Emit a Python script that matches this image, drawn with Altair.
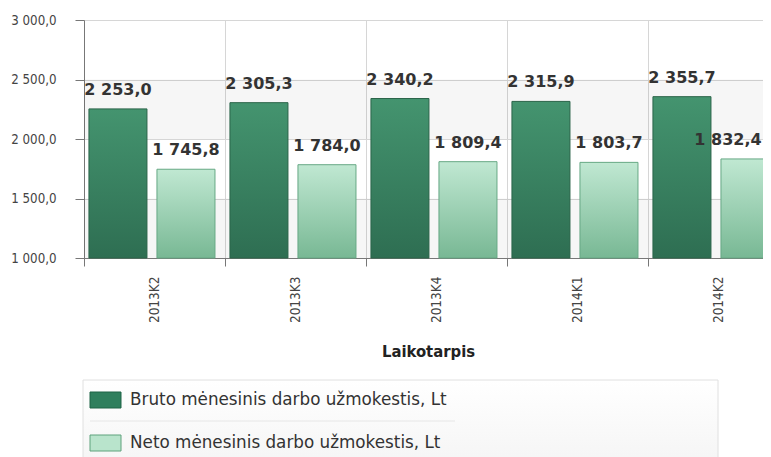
import altair as alt
import pandas as pd

periods = ["2013K2", "2013K3", "2013K4", "2014K1", "2014K2"]
bruto = [2253.0, 2305.3, 2340.2, 2315.9, 2355.7]
neto = [1745.8, 1784.0, 1809.4, 1803.7, 1832.4]
series = ["Bruto mėnesinis darbo užmokestis, Lt", "Neto mėnesinis darbo užmokestis, Lt"]
y_ticks = [1000, 1500, 2000, 2500, 3000]
shade_lo = [1000, 2000]
shade_hi = [1500, 2500]


def lt_format(v):
    return f"{v:,.1f}".replace(",", " ").replace(".", ",")


rows = []
for p, b, n in zip(periods, bruto, neto):
    rows.append({"period": p, "series": series[0], "value": b, "label": lt_format(b)})
    rows.append({"period": p, "series": series[1], "value": n, "label": lt_format(n)})
df = pd.DataFrame(rows)

# visible plot width (the 5th band runs off the right edge, as in the original)
W, H = 679, 238
FULL = 705
AX_FONT = "DejaVu Sans Condensed, Liberation Sans, sans-serif"
LBL_FONT = "DejaVu Sans, Verdana, sans-serif"

x_enc = alt.X(
    "period:N",
    sort=periods,
    title="Laikotarpis",
    scale=alt.Scale(domain=periods, paddingInner=0, paddingOuter=0, range=[0, FULL]),
    axis=alt.Axis(
        labelAngle=270, labelAlign="right", labelBaseline="middle",
        labelPadding=10, tickSize=8, tickBand="extent", grid=True,
        gridColor="#d6d6d6", domainColor="#777777", tickColor="#777777",
        labelFont=AX_FONT, labelFontSize=13.5, labelColor="#444444",
        titleFont=AX_FONT, titleFontSize=16.5, titleFontWeight="bold",
        titleColor="#222222", titlePadding=21, titleX=344,
    ),
)
xo_enc = alt.XOffset(
    "series:N",
    scale=alt.Scale(domain=series, paddingInner=0.147, paddingOuter=0.11, align=0.33),
)
y_enc = alt.Y(
    "value:Q",
    scale=alt.Scale(domain=[1000, 3000], nice=False, zero=False),
    axis=alt.Axis(
        values=y_ticks, title=None,
        labelExpr="replace(replace(format(datum.value, ',.1f'), ',', ' '), '.', ',')",
        tickSize=9, labelPadding=19,
        domainColor="#777777", tickColor="#777777", gridColor="#d6d6d6",
        labelFont=AX_FONT, labelFontSize=13.2, labelColor="#444444",
    ),
)

shade = alt.Chart(pd.DataFrame({"lo": shade_lo, "hi": shade_hi})).mark_rect(
    color="#000000", opacity=0.035
).encode(
    x=alt.value(0), x2=alt.value(FULL),
    y=alt.Y("lo:Q", scale=alt.Scale(domain=[1000, 3000], nice=False, zero=False)),
    y2="hi:Q",
)

dark_grad = alt.Gradient(
    gradient="linear", x1=0, x2=0, y1=0, y2=1,
    stops=[alt.GradientStop(color="#44946f", offset=0),
           alt.GradientStop(color="#2e6e52", offset=1)],
)
light_grad = alt.Gradient(
    gradient="linear", x1=0, x2=0, y1=0, y2=1,
    stops=[alt.GradientStop(color="#c0e8d2", offset=0),
           alt.GradientStop(color="#78b894", offset=1)],
)

base = alt.Chart(df).encode(x=x_enc, xOffset=xo_enc, y=y_enc, y2=alt.datum(1000))

bars_b = base.transform_filter(alt.datum.series == series[0]).mark_bar(
    fill=dark_grad, stroke="#2a6449", strokeWidth=1
)
bars_n = base.transform_filter(alt.datum.series == series[1]).mark_bar(
    fill=light_grad, stroke="#66a884", strokeWidth=1
)

is_edge = (alt.datum.period == periods[-1]) & (alt.datum.series == series[1])
label_style = dict(font=LBL_FONT, fontSize=16, fontWeight="bold", color="#333333",
                   baseline="bottom", dy=-11)
labels = alt.Chart(df).transform_filter(~is_edge).mark_text(**label_style).encode(
    x=x_enc, xOffset=xo_enc, y=y_enc, text="label:N"
)
# the right-most label is nudged inward so that it stays inside the picture
labels_edge = alt.Chart(df).transform_filter(is_edge).mark_text(
    **label_style, dx=-22
).encode(x=x_enc, xOffset=xo_enc, y=y_enc, text="label:N")

# legend box drawn below the plot
leg_box = alt.Chart(pd.DataFrame({"s": [series[0]]})).mark_rect(
    fill=alt.Gradient(gradient="linear", x1=0, x2=0, y1=0, y2=1,
                      stops=[alt.GradientStop(color="#ffffff", offset=0),
                             alt.GradientStop(color="#f2f2f2", offset=1)]),
    stroke="#e0e0e0", strokeWidth=1,
).encode(x=alt.value(-1), x2=alt.value(634), y=alt.value(360), y2=alt.value(470))

leg_sep = alt.Chart(pd.DataFrame({"s": [series[0]]})).mark_rule(
    color="#e6e6e6", strokeWidth=1
).encode(x=alt.value(6), x2=alt.value(371), y=alt.value(401))

swatch_fill = ["#2f7f5d", "#b9e4cc"]
swatch_stroke = ["#1f6446", "#5ea27d"]
swatch_y = [372, 415]

leg_layers = []
for i, s in enumerate(series):
    d = pd.DataFrame({"s": [s]})
    leg_layers.append(
        alt.Chart(d).mark_rect(fill=swatch_fill[i], stroke=swatch_stroke[i], strokeWidth=1).encode(
            x=alt.value(6), x2=alt.value(37), y=alt.value(swatch_y[i]), y2=alt.value(swatch_y[i] + 16)
        )
    )
    leg_layers.append(
        alt.Chart(d).mark_text(
            align="left", baseline="middle", font=LBL_FONT, fontSize=16.8, color="#333333"
        ).encode(x=alt.value(46), y=alt.value(swatch_y[i] + 8), text="s:N")
    )

chart = alt.layer(shade, bars_b, bars_n, labels, labels_edge, leg_box, leg_sep, *leg_layers).properties(
    width=W, height=H,
    padding={"left": 76, "top": 12, "right": 0, "bottom": 199},
    autosize=alt.AutoSizeParams(type="none"),
    background="#ffffff",
).configure_view(stroke=None)

chart.save("out.html", embed_options={"renderer": "svg", "actions": False})
